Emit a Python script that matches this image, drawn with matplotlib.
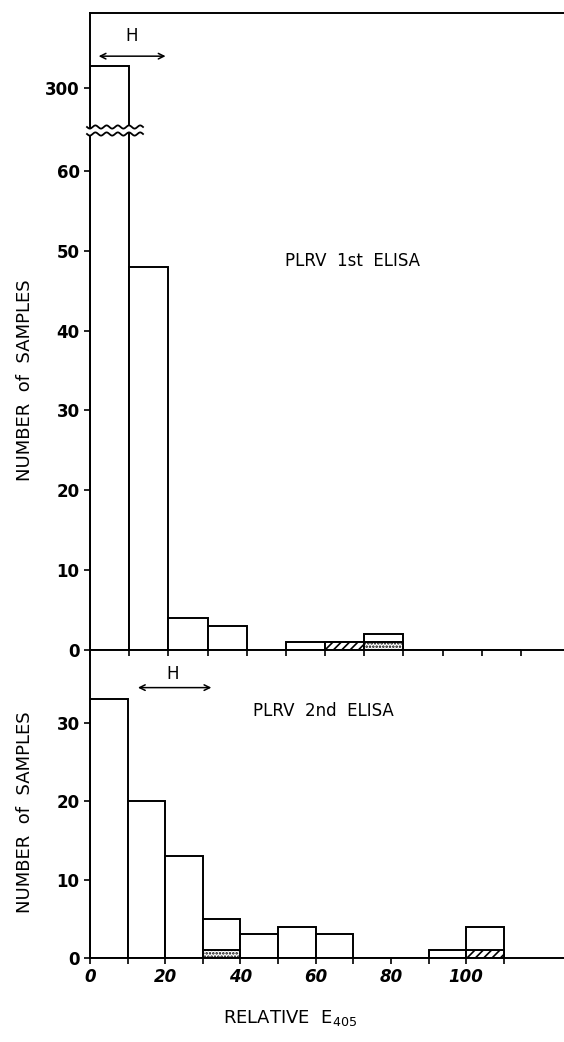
import numpy as np
import matplotlib
matplotlib.use("Agg")
import matplotlib.pyplot as plt
from matplotlib.lines import Line2D
from matplotlib.patches import Polygon

# bin left edges (relative E405)
bins = [0, 10, 20, 30, 40, 50, 60, 70, 80, 90, 100]

# PLRV 1st ELISA
first_all = [315, 48, 4, 3, 0, 1, 1, 2, 0, 0, 0]
first_hatched = [0, 0, 0, 0, 0, 0, 1, 0, 0, 0, 0]
first_dotted = [0, 0, 0, 0, 0, 0, 0, 1, 0, 0, 0]

# PLRV 2nd ELISA
second_all = [33, 20, 13, 5, 3, 4, 3, 0, 0, 1, 4]
second_hatched = [0, 0, 0, 0, 0, 0, 0, 0, 0, 0, 1]
second_dotted = [0, 0, 0, 1, 0, 0, 0, 0, 0, 0, 0]

W, H = 564, 1042
fig = plt.figure(figsize=(W / 100, H / 100), dpi=100)
plt.rcParams['hatch.linewidth'] = 1.2


def box(top, bottom, left=90):
    return [left / W, 1 - bottom / H, 1 - left / W, (bottom - top) / H]


ax_b = fig.add_axes(box(650, 958))
ax_up = fig.add_axes(box(13, 131))
ax_lo = fig.add_axes(box(131, 650))
ax_b.patch.set_visible(False)
ax_lo.patch.set_visible(False)

lw = 1.4


def draw_bars(ax, total, hatched, dotted):
    ax.bar(bins, total, width=10, align='edge', facecolor='white',
           edgecolor='black', linewidth=lw)
    ax.bar(bins, hatched, width=10, align='edge', facecolor='white',
           edgecolor='black', linewidth=lw, hatch='////')
    ax.bar(bins, dotted, width=10, align='edge', facecolor='white',
           edgecolor='black', linewidth=lw, hatch='.....')


draw_bars(ax_up, first_all, first_hatched, first_dotted)
draw_bars(ax_lo, first_all, first_hatched, first_dotted)
draw_bars(ax_b, second_all, second_hatched, second_dotted)

ax_up.set_ylim(270, 352)
ax_lo.set_ylim(0, 65)
ax_b.set_ylim(0, 39.3)
ax_up.set_xlim(0, 121)
ax_lo.set_xlim(0, 121)
ax_b.set_xlim(0, 126)

for ax in (ax_up, ax_lo, ax_b):
    ax.spines['right'].set_visible(False)
    for s in ax.spines.values():
        s.set_linewidth(lw)
    ax.tick_params(direction='out', length=4, width=1.2, labelsize=12)

ax_up.spines['bottom'].set_visible(False)
ax_up.set_xticks([])
ax_up.set_yticks([300])
ax_lo.spines['top'].set_visible(False)
ax_b.spines['top'].set_visible(False)

ax_lo.set_yticks(range(0, 61, 10))
ax_lo.set_xticks(range(0, 111, 10))
ax_lo.set_xticklabels([])
ax_b.set_yticks(range(0, 31, 10))
ax_b.set_xticks(range(0, 111, 10))
ax_b.set_xticklabels(['0', '', '20', '', '40', '', '60', '', '80', '', '100', ''],
                     fontweight='bold', style='italic', fontsize=12)
for ax in (ax_up, ax_lo, ax_b):
    for t in ax.get_yticklabels():
        t.set_fontweight('bold')
        t.set_fontsize(12)

# H arrows
ax_up.annotate('', xy=(1.5, 322), xytext=(20, 322),
               arrowprops=dict(arrowstyle='<->', lw=1.1, color='black'))
ax_up.text(10.5, 336, 'H', ha='center', va='center', fontsize=12)
ax_b.annotate('', xy=(12, 34.5), xytext=(33, 34.5),
              arrowprops=dict(arrowstyle='<->', lw=1.1, color='black'))
ax_b.text(22, 36.3, 'H', ha='center', va='center', fontsize=12)

ax_lo.text(67, 48.7, 'PLRV  1st  ELISA', ha='center', va='center', fontsize=12)
ax_b.text(62, 31.5, 'PLRV  2nd  ELISA', ha='center', va='center', fontsize=12)

fig.text(25 / W, 1 - 380 / H, 'NUMBER  of  SAMPLES', rotation=90,
         ha='center', va='center', fontsize=13)
fig.text(25 / W, 1 - 812 / H, 'NUMBER  of  SAMPLES', rotation=90,
         ha='center', va='center', fontsize=13)
fig.text(290 / W, 1 - 1018 / H, r'RELATIVE  E$_{405}$', ha='center',
         va='center', fontsize=13)

# axis break (wavy lines)
xs = np.linspace(87, 143, 200)
wave = 1.6 * np.sin((xs - 87) / 56 * 2 * np.pi * 5)
y1 = 127 + wave
y2 = 134 + wave
poly = np.column_stack([np.r_[xs, xs[::-1]], np.r_[y1, y2[::-1]]])
poly_fig = np.column_stack([poly[:, 0] / W, 1 - poly[:, 1] / H])
fig.add_artist(Polygon(poly_fig, closed=True, facecolor='white',
                       edgecolor='none', transform=fig.transFigure, zorder=10))
for yy in (y1, y2):
    fig.add_artist(Line2D(xs / W, 1 - yy / H, color='black', lw=1.3,
                          transform=fig.transFigure, zorder=11))

fig.savefig('out.png', dpi=100)
